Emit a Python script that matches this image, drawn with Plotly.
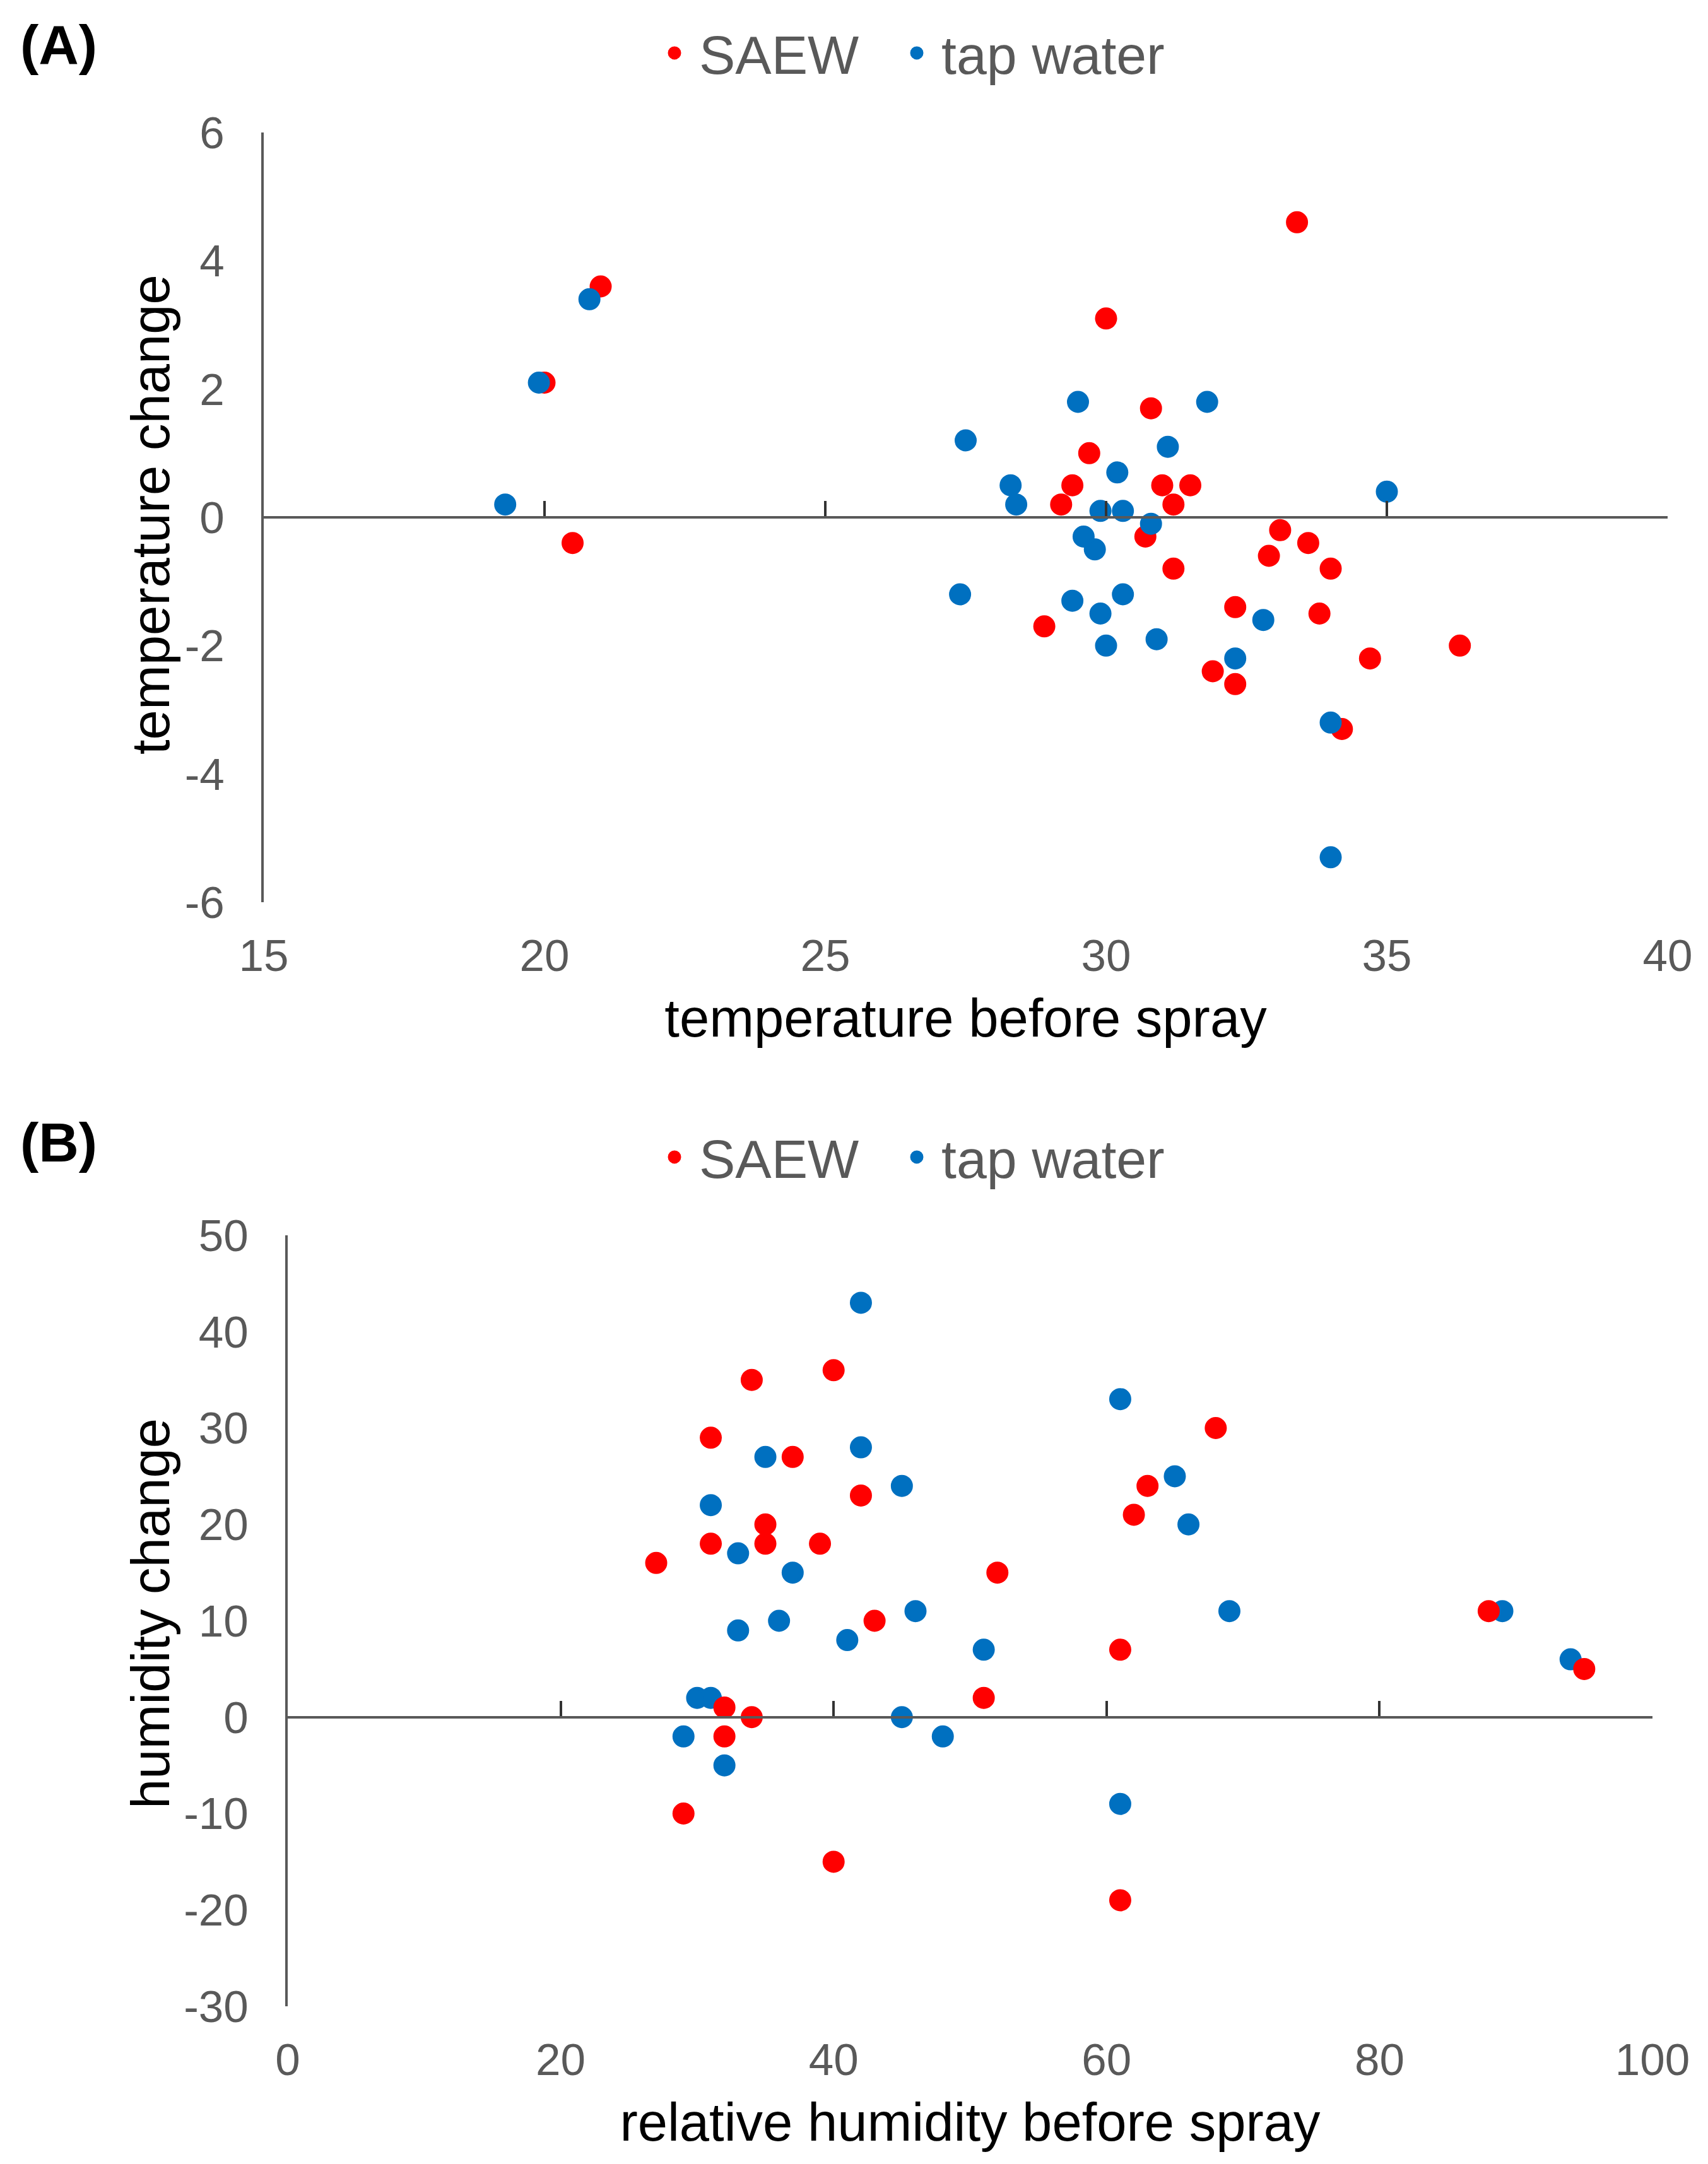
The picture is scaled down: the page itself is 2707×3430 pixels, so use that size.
import plotly.graph_objects as go

# ---------------- data ----------------
# Panel A: temperature before spray vs temperature change
temp_saew_x = [20.0, 21.0, 20.5, 30.0, 33.4, 30.8, 29.7, 29.4, 31.0, 31.5, 29.2, 31.2,
               30.7, 33.1, 33.6, 32.9, 31.2, 34.0, 32.3, 33.8, 28.9, 36.3, 34.7, 31.9,
               32.3, 34.2]
temp_saew_y = [2.1, 3.6, -0.4, 3.1, 4.6, 1.7, 1.0, 0.5, 0.5, 0.5, 0.2, 0.2,
               -0.3, -0.2, -0.4, -0.6, -0.8, -0.8, -1.4, -1.5, -1.7, -2.0, -2.2, -2.4,
               -2.6, -3.3]
temp_tap_x = [19.3, 19.9, 20.8, 29.5, 31.8, 27.5, 31.1, 30.2, 28.3, 28.4, 29.9, 30.3,
              30.8, 29.6, 29.8, 35.0, 27.4, 29.4, 30.3, 29.9, 30.0, 30.9, 32.8, 32.3,
              34.0, 34.0]
temp_tap_y = [0.2, 2.1, 3.4, 1.8, 1.8, 1.2, 1.1, 0.7, 0.5, 0.2, 0.1, 0.1,
              -0.1, -0.3, -0.5, 0.4, -1.2, -1.3, -1.2, -1.5, -2.0, -1.9, -1.6, -2.2,
              -3.2, -5.3]

# Panel B: relative humidity before spray vs humidity change
hum_saew_x = [34, 40, 31, 37, 42, 35, 35, 31, 39, 27, 52, 43, 51, 32, 34, 32, 29, 40,
              68, 63, 62, 61, 88, 95, 61]
hum_saew_y = [35, 36, 29, 27, 23, 20, 18, 18, 18, 16, 15, 10, 2, 1, 0, -2, -10, -15,
              30, 24, 21, 7, 11, 5, -19]
hum_tap_x = [42, 42, 35, 45, 31, 33, 37, 46, 36, 33, 41, 51, 30, 31, 45, 29, 48, 32,
             61, 65, 66, 69, 89, 94, 61]
hum_tap_y = [43, 28, 27, 24, 22, 17, 15, 11, 10, 9, 8, 7, 2, 2, 0, -2, -2, -5,
             33, 25, 20, 11, 11, 6, -9]

series_names = ["SAEW", "tap water"]
panel_labels = ["(A)", "(B)"]

a_x_title = "temperature before spray"
a_y_title = "temperature change"
a_x_range = [15, 40]
a_y_range = [-6, 6]
a_x_ticks = [15, 20, 25, 30, 35, 40]
a_y_ticks = [-6, -4, -2, 0, 2, 4, 6]

b_x_title = "relative humidity before spray"
b_y_title = "humidity change"
b_x_range = [0, 100]
b_y_range = [-30, 50]
b_x_ticks = [0, 20, 40, 60, 80, 100]
b_y_ticks = [-30, -20, -10, 0, 10, 20, 30, 40, 50]

# ---------------- style ----------------
W, H = 2707, 3430
OFF = 8  # page body margin
RED = "#FF0000"
BLUE = "#0070C0"
AXIS = "#595959"
FONT = "Liberation Sans, Arial, sans-serif"
MS = 30      # marker body
MLW = 5      # same-colour outline (total visual diameter ~35)

def px_x(p):
    return (p - OFF) / W

def px_y(p):
    return 1 - (p - OFF) / H

a_dom_x = [px_x(418), px_x(2643)]
a_dom_y = [px_y(1430), px_y(210)]
b_dom_x = [px_x(456), px_x(2619)]
b_dom_y = [px_y(3180), px_y(1958)]

def zero_pos(dom, rng):
    frac = (0 - rng[0]) / (rng[1] - rng[0])
    return dom[0] + frac * (dom[1] - dom[0])

def labels(vals):
    return [str(v) for v in vals]

def mk(color):
    return dict(color=color, size=MS, line=dict(color=color, width=MLW))

fig = go.Figure()

# Panel A
fig.add_trace(go.Scatter(x=temp_saew_x, y=temp_saew_y, mode="markers", name=series_names[0],
                         marker=mk(RED), xaxis="x", yaxis="y", legend="legend"))
fig.add_trace(go.Scatter(x=temp_tap_x, y=temp_tap_y, mode="markers", name=series_names[1],
                         marker=mk(BLUE), xaxis="x", yaxis="y", legend="legend3"))
fig.add_trace(go.Scatter(x=[], y=[], mode="markers", showlegend=False, hoverinfo="skip",
                         xaxis="x2", yaxis="y"))

# Panel B
fig.add_trace(go.Scatter(x=hum_tap_x, y=hum_tap_y, mode="markers", name=series_names[1],
                         marker=mk(BLUE), xaxis="x3", yaxis="y3", legend="legend4"))
fig.add_trace(go.Scatter(x=hum_saew_x, y=hum_saew_y, mode="markers", name=series_names[0],
                         marker=mk(RED), xaxis="x3", yaxis="y3", legend="legend2"))
fig.add_trace(go.Scatter(x=[], y=[], mode="markers", showlegend=False, hoverinfo="skip",
                         xaxis="x4", yaxis="y3"))

tickfont = dict(family=FONT, size=71, color=AXIS)
titlefont = dict(family=FONT, size=85, color="black")

def main_x(dom, anchor, rng, ticks, title):
    return dict(domain=dom, anchor=anchor, range=rng, tickvals=ticks, ticktext=labels(ticks),
                showline=False, showgrid=False, zeroline=False, ticks="",
                tickfont=tickfont, ticklabelstandoff=37, automargin=False,
                title=dict(text=title, font=titlefont, standoff=30))

def zero_x(overlay, pos, rng, ticks):
    return dict(overlaying=overlay, matches=overlay, anchor="free", position=pos, range=rng,
                tickvals=ticks, showticklabels=False, showline=True, linecolor=AXIS,
                linewidth=4, ticks="inside", ticklen=24, tickwidth=4, tickcolor="#333333",
                showgrid=False, zeroline=False, automargin=False)

def main_y(dom, anchor, rng, ticks):
    return dict(domain=dom, anchor=anchor, range=rng, tickvals=ticks, ticktext=labels(ticks),
                showline=True, linecolor=AXIS, linewidth=4, ticks="", showgrid=False,
                zeroline=False, tickfont=tickfont, ticklabelstandoff=44, automargin=False)

legend_style = dict(orientation="h", xanchor="left", yanchor="middle",
                    font=dict(family=FONT, size=86, color=AXIS), bgcolor="rgba(0,0,0,0)",
                    itemwidth=68, borderwidth=0)

def panel_label(text, y):
    return dict(text="<b>" + text + "</b>", x=px_x(30), y=px_y(y), xref="paper", yref="paper",
                xanchor="left", yanchor="middle", showarrow=False,
                font=dict(family=FONT, size=88, color="black"))

def y_title(text, y):
    return dict(text=text, x=px_x(238), y=px_y(y), xref="paper", yref="paper",
                xanchor="center", yanchor="middle", textangle=-90, showarrow=False,
                font=titlefont)

fig.update_layout(
    width=W, height=H,
    margin=dict(l=0, r=0, t=0, b=0, autoexpand=False),
    paper_bgcolor="white", plot_bgcolor="white",
    font=dict(family=FONT, color=AXIS),
    xaxis=main_x(a_dom_x, "y", a_x_range, a_x_ticks, a_x_title),
    yaxis=main_y(a_dom_y, "x", a_y_range, a_y_ticks),
    xaxis2=zero_x("x", zero_pos(a_dom_y, a_y_range), a_x_range, a_x_ticks),
    xaxis3=main_x(b_dom_x, "y3", b_x_range, b_x_ticks, b_x_title),
    yaxis3=main_y(b_dom_y, "x3", b_y_range, b_y_ticks),
    xaxis4=zero_x("x3", zero_pos(b_dom_y, b_y_range), b_x_range, b_x_ticks),
    legend=dict(legend_style, x=px_x(1030), y=px_y(84)),
    legend3=dict(legend_style, x=px_x(1414), y=px_y(84)),
    legend2=dict(legend_style, x=px_x(1030), y=px_y(1834)),
    legend4=dict(legend_style, x=px_x(1414), y=px_y(1834)),
    showlegend=True,
    annotations=[
        panel_label(panel_labels[0], 70),
        panel_label(panel_labels[1], 1810),
        y_title(a_y_title, 816),
        y_title(b_y_title, 2558),
    ],
)

fig.write_html("out.html")
